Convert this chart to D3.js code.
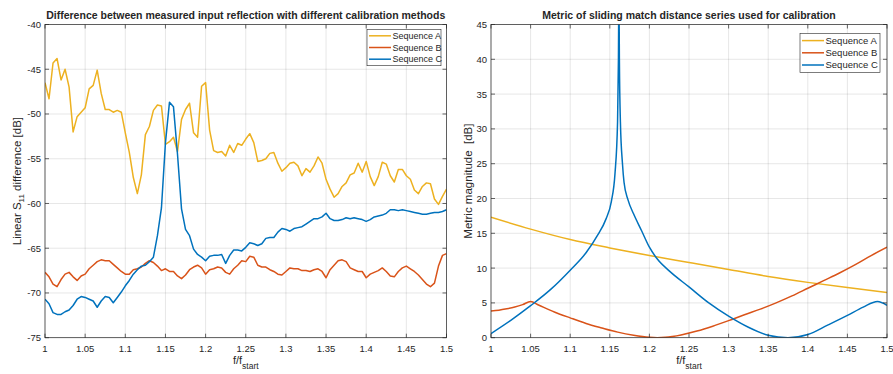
<!DOCTYPE html>
<html>
<head>
<meta charset="utf-8">
<script src="https://cdn.jsdelivr.net/npm/d3@7"></script>
<style>
  body { margin: 0; background: #fff; }
  svg { display: block; }
  text { font-family: "Liberation Sans", Arial, Helvetica, sans-serif; fill: #262626; }
</style>
</head>
<body>
<div id="chart"></div>
<script>
// ---- data ----

var seriesNames = ["Sequence A", "Sequence B", "Sequence C"];
var seriesColors = ["#EDB120", "#D95319", "#0072BD"];

// left panel: frequency samples every 0.005 from 1 to 1.5
var diffFreq = d3.range(101).map(function(i) { return 1 + i * 0.005; });

var diffSeqA = [-46.5,-48.3,-44.3,-43.8,-46.2,-45.0,-47.0,-52.0,-50.3,-49.8,
  -49.3,-47.2,-46.8,-45.1,-47.7,-49.5,-49.5,-49.8,-49.6,-49.8,
  -52.1,-54.3,-57.1,-58.9,-56.8,-52.3,-51.4,-49.6,-49.0,-49.1,
  -53.4,-53.1,-52.6,-54.2,-50.6,-49.5,-48.8,-52.1,-52.6,-46.9,
  -46.5,-51.8,-54.1,-54.3,-54.2,-54.7,-53.5,-54.3,-53.3,-53.5,
  -52.8,-52.2,-53.2,-55.3,-55.2,-55.0,-54.4,-54.3,-55.5,-56.4,
  -56.0,-55.5,-55.4,-55.8,-56.9,-56.1,-56.5,-55.8,-54.8,-55.5,
  -57.3,-58.4,-59.3,-58.9,-58.1,-57.7,-56.8,-56.6,-55.5,-56.5,
  -55.3,-57.0,-58.0,-57.0,-55.4,-55.6,-56.9,-57.6,-56.2,-56.2,
  -56.9,-57.3,-58.5,-58.9,-58.1,-57.7,-57.8,-59.5,-60.1,-59.2,
  -58.4];

var diffSeqB = [-67.7,-68.2,-69.0,-69.3,-68.5,-67.9,-67.7,-68.2,-68.6,-68.1,
  -67.9,-67.3,-66.9,-66.5,-66.3,-66.4,-66.4,-66.8,-67.2,-67.6,
  -67.9,-67.9,-67.4,-67.3,-67.1,-66.7,-66.4,-66.6,-67.0,-67.5,
  -67.3,-67.6,-67.6,-68.1,-68.4,-68.0,-67.4,-67.1,-66.9,-67.2,
  -67.9,-67.4,-67.3,-67.1,-67.2,-67.7,-67.9,-67.3,-66.9,-66.4,
  -66.5,-65.9,-66.0,-66.9,-67.1,-67.1,-67.4,-67.6,-67.9,-68.0,
  -67.6,-67.2,-67.3,-67.3,-67.5,-67.5,-67.6,-67.4,-67.3,-67.6,
  -68.3,-67.4,-66.9,-66.4,-66.3,-66.5,-67.2,-67.4,-67.6,-67.6,
  -68.3,-67.9,-67.7,-67.5,-67.2,-67.6,-68.1,-68.2,-67.6,-67.2,
  -67.0,-67.3,-67.6,-68.0,-68.5,-69.0,-69.3,-68.9,-67.0,-65.8,
  -65.6];

var diffSeqC = [-70.7,-71.2,-72.2,-72.4,-72.4,-72.1,-71.9,-71.4,-70.7,-70.4,
  -70.5,-70.7,-70.9,-71.6,-70.9,-70.4,-70.5,-71.1,-70.5,-69.9,
  -69.2,-68.6,-67.9,-67.4,-67.0,-66.9,-66.5,-66.0,-63.6,-60.5,
  -53.2,-48.7,-49.2,-54.5,-60.6,-62.9,-63.6,-65.1,-65.7,-66.0,
  -66.4,-65.9,-65.8,-65.8,-65.7,-66.7,-65.8,-65.2,-65.2,-65.3,
  -64.9,-64.4,-64.5,-64.7,-64.5,-63.9,-63.8,-63.8,-63.2,-62.8,
  -62.9,-63.1,-62.8,-62.7,-62.6,-62.3,-62.0,-61.7,-61.7,-61.5,
  -61.1,-61.7,-61.9,-61.9,-61.8,-61.6,-61.7,-61.6,-61.7,-61.8,
  -62.0,-61.8,-61.5,-61.4,-61.3,-61.1,-60.7,-60.7,-60.8,-60.7,
  -60.8,-60.9,-61.0,-61.1,-61.2,-61.2,-61.1,-61.0,-61.0,-60.9,
  -60.7];

// right panel: metric curves
var metricFreqA = [1, 1.05, 1.1, 1.15, 1.2, 1.25, 1.3, 1.35, 1.4, 1.45, 1.5];
var metricSeqA = [17.3, 15.6, 14.1, 12.9, 11.8, 10.8, 9.8, 8.8, 7.95, 7.2, 6.5];

var metricFreqB = [1, 1.01, 1.02, 1.03, 1.04, 1.05, 1.06, 1.08, 1.1, 1.12, 1.14, 1.16, 1.18, 1.2, 1.21,
  1.22, 1.24, 1.26, 1.28, 1.3, 1.32, 1.34, 1.36, 1.38, 1.4, 1.42, 1.44, 1.46, 1.48, 1.5];
var metricSeqB = [3.85, 3.95, 4.15, 4.4, 4.75, 5.2, 4.7, 3.7, 2.85, 2.05, 1.4, 0.8, 0.35, 0.05, 0,
  0.05, 0.4, 0.95, 1.65, 2.45, 3.3, 4.1, 5.0, 6.0, 7.1, 8.2, 9.3, 10.5, 11.8, 13.0];

var metricFreqC = [1, 1.025, 1.05, 1.075, 1.1, 1.12, 1.135, 1.145, 1.152, 1.1565, 1.1598, 1.1609, 1.1615,
  1.1621, 1.1634, 1.166, 1.168, 1.173, 1.18, 1.19, 1.2, 1.21, 1.225, 1.25, 1.275, 1.3, 1.325,
  1.35, 1.375, 1.4, 1.425, 1.45, 1.47, 1.488, 1.5];
var metricSeqC = [0.6, 2.5, 4.6, 6.9, 9.7, 12.2, 14.8, 17.0, 19.6, 23.5, 31, 40, 50,
  40, 31, 25, 22.3, 19.8, 17.8, 15.4, 13.0, 11.3, 9.6, 7.3, 5.0, 3.1, 1.5,
  0.35, 0, 0.45, 1.8, 3.2, 4.4, 5.2, 4.65];

// ticks
var freqTicks = [1, 1.05, 1.1, 1.15, 1.2, 1.25, 1.3, 1.35, 1.4, 1.45, 1.5];
var freqTickLabels = ["1", "1.05", "1.1", "1.15", "1.2", "1.25", "1.3", "1.35", "1.4", "1.45", "1.5"];
var diffTicks = [-40, -45, -50, -55, -60, -65, -70, -75];
var diffTickLabels = ["-40", "-45", "-50", "-55", "-60", "-65", "-70", "-75"];
var metricTicks = [0, 5, 10, 15, 20, 25, 30, 35, 40, 45];
var metricTickLabels = ["0", "5", "10", "15", "20", "25", "30", "35", "40", "45"];

// ---- drawing ----
var width = 893, height = 374;

var svg = d3.select("#chart").append("svg")
  .attr("width", width)
  .attr("height", height);

function toPoints(xs, ys) {
  return xs.map(function(x, i) { return [x, ys[i]]; });
}

function drawPanel(cfg) {
  var x = d3.scaleLinear().domain([1, 1.5]).range([cfg.left, cfg.right]);
  var y = d3.scaleLinear().domain(cfg.yDomain).range([cfg.bottom, cfg.top]);
  var g = svg.append("g");

  // grid
  g.selectAll(".vgrid").data(freqTicks).enter().append("line")
    .attr("x1", function(d) { return x(d); }).attr("x2", function(d) { return x(d); })
    .attr("y1", cfg.top).attr("y2", cfg.bottom)
    .attr("stroke", "#262626").attr("stroke-opacity", 0.14).attr("stroke-width", 0.8);
  g.selectAll(".hgrid").data(cfg.yTicks).enter().append("line")
    .attr("x1", cfg.left).attr("x2", cfg.right)
    .attr("y1", function(d) { return y(d); }).attr("y2", function(d) { return y(d); })
    .attr("stroke", "#262626").attr("stroke-opacity", 0.14).attr("stroke-width", 0.8);

  // data lines
  var clipId = "clip" + cfg.id;
  svg.append("clipPath").attr("id", clipId).append("rect")
    .attr("x", cfg.left).attr("y", cfg.top)
    .attr("width", cfg.right - cfg.left).attr("height", cfg.bottom - cfg.top);

  var line = d3.line()
    .x(function(d) { return x(d[0]); })
    .y(function(d) { return y(d[1]); })
    .curve(cfg.curve);

  var lines = g.append("g").attr("clip-path", "url(#" + clipId + ")");
  cfg.series.forEach(function(s, i) {
    lines.append("path")
      .attr("d", line(s))
      .attr("fill", "none")
      .attr("stroke", seriesColors[i])
      .attr("stroke-width", 1.5)
      .attr("stroke-linejoin", "round");
  });

  // box
  g.append("rect")
    .attr("x", cfg.left).attr("y", cfg.top)
    .attr("width", cfg.right - cfg.left).attr("height", cfg.bottom - cfg.top)
    .attr("fill", "none").attr("stroke", "#262626").attr("stroke-width", 0.7);

  // tick marks (inside, mirrored because box is on)
  var tl = 4;
  freqTicks.forEach(function(d) {
    g.append("line").attr("x1", x(d)).attr("x2", x(d)).attr("y1", cfg.bottom).attr("y2", cfg.bottom - tl)
      .attr("stroke", "#262626").attr("stroke-width", 0.7);
    g.append("line").attr("x1", x(d)).attr("x2", x(d)).attr("y1", cfg.top).attr("y2", cfg.top + tl)
      .attr("stroke", "#262626").attr("stroke-width", 0.7);
  });
  cfg.yTicks.forEach(function(d) {
    g.append("line").attr("x1", cfg.left).attr("x2", cfg.left + tl).attr("y1", y(d)).attr("y2", y(d))
      .attr("stroke", "#262626").attr("stroke-width", 0.7);
    g.append("line").attr("x1", cfg.right).attr("x2", cfg.right - tl).attr("y1", y(d)).attr("y2", y(d))
      .attr("stroke", "#262626").attr("stroke-width", 0.7);
  });

  // tick labels
  g.selectAll(".xtl").data(freqTicks).enter().append("text")
    .attr("x", function(d) { return x(d); })
    .attr("y", cfg.bottom + 14)
    .attr("text-anchor", "middle")
    .style("font-size", "9.5px")
    .text(function(d, i) { return freqTickLabels[i]; });
  g.selectAll(".ytl").data(cfg.yTicks).enter().append("text")
    .attr("x", cfg.left - 4)
    .attr("y", function(d) { return y(d) + 3.4; })
    .attr("text-anchor", "end")
    .style("font-size", "9.5px")
    .text(function(d, i) { return cfg.yTickLabels[i]; });

  // title
  g.append("text")
    .attr("x", (cfg.left + cfg.right) / 2)
    .attr("y", cfg.top - 6)
    .attr("text-anchor", "middle")
    .style("font-size", "10.5px")
    .style("font-weight", "bold")
    .text(cfg.title);

  // x label f/f_start
  var xl = g.append("text")
    .attr("x", (cfg.left + cfg.right) / 2)
    .attr("y", cfg.bottom + 26)
    .attr("text-anchor", "middle")
    .style("font-size", "11px");
  xl.append("tspan").text("f/f");
  xl.append("tspan").attr("dy", 5).style("font-size", "8.5px").text("start");

  // y label
  var yl = g.append("text")
    .attr("transform", "translate(" + cfg.yLabelX + "," + (cfg.top + cfg.bottom) / 2 + ") rotate(-90)")
    .attr("text-anchor", "middle")
    .style("font-size", "11.5px");
  cfg.yLabel(yl);

  // legend
  var lg = g.append("g").attr("transform", "translate(" + cfg.legend.x + "," + cfg.legend.y + ")");
  lg.append("rect")
    .attr("width", cfg.legend.w).attr("height", cfg.legend.h)
    .attr("fill", "#fff").attr("stroke", "#262626").attr("stroke-width", 0.6);
  seriesNames.forEach(function(name, i) {
    var ry = cfg.legend.h / 2 + (i - 1) * cfg.legend.row;
    lg.append("line")
      .attr("x1", 2).attr("x2", 24).attr("y1", ry).attr("y2", ry)
      .attr("stroke", seriesColors[i]).attr("stroke-width", 1.5);
    lg.append("text")
      .attr("x", 25.5).attr("y", ry + 3.3)
      .style("font-size", cfg.legend.font)
      .text(name);
  });
}

drawPanel({
  id: "L",
  left: 45, right: 446.5, top: 24.5, bottom: 337.7,
  yDomain: [-75, -40],
  yTicks: diffTicks, yTickLabels: diffTickLabels,
  curve: d3.curveLinear,
  series: [toPoints(diffFreq, diffSeqA), toPoints(diffFreq, diffSeqB), toPoints(diffFreq, diffSeqC)],
  title: "Difference between measured input reflection with different calibration methods",
  yLabelX: 21,
  yLabel: function(t) {
    t.append("tspan").text("Linear S");
    t.append("tspan").attr("dy", 3).style("font-size", "8px").text("11");
    t.append("tspan").attr("dy", -3).text(" difference [dB]");
  },
  legend: { x: 367, y: 29.3, w: 74, h: 36.4, row: 11.7, font: "9px" }
});

drawPanel({
  id: "R",
  left: 491, right: 887, top: 24.5, bottom: 337.7,
  yDomain: [0, 45],
  yTicks: metricTicks, yTickLabels: metricTickLabels,
  curve: d3.curveMonotoneX,
  series: [toPoints(metricFreqA, metricSeqA), toPoints(metricFreqB, metricSeqB), toPoints(metricFreqC, metricSeqC)],
  title: "Metric of sliding match distance series used for calibration",
  yLabelX: 472,
  yLabel: function(t) {
    t.append("tspan").text("Metric magnitude\u00a0\u00a0[dB]");
  },
  legend: { x: 800, y: 33.3, w: 80, h: 39, row: 12.2, font: "9.5px" }
});
</script>
</body>
</html>
